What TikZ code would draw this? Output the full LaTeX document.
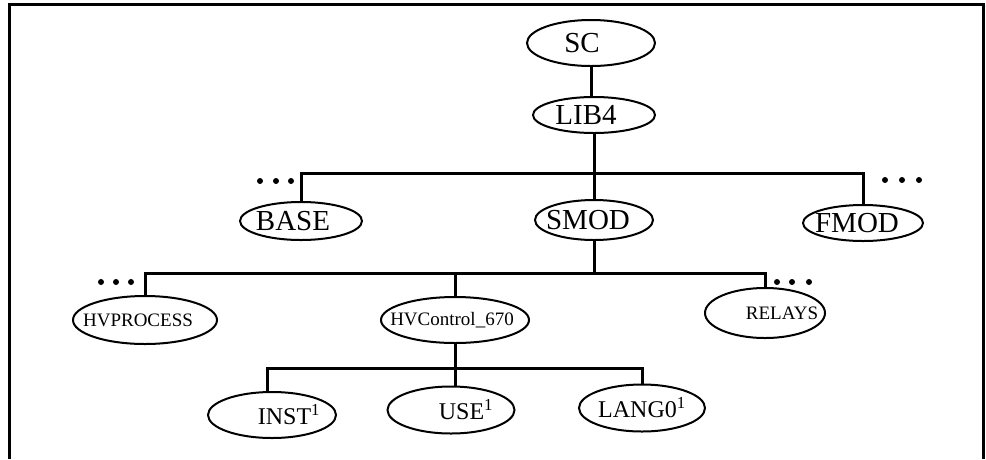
\documentclass[tikz,border=0pt]{standalone}
\usepackage{fontspec}
\setmainfont{Liberation Serif}
\usetikzlibrary{shapes.geometric}
\newcommand{\offtext}[2]{\makebox[0pt]{\hspace*{#1}#2}}
\tikzset{
  ell/.style={ellipse, draw, line width=2pt, inner sep=0pt},
  big/.style={ell, font=\fontsize{29}{31}\selectfont},
  mid/.style={ell, font=\fontsize{24}{26}\selectfont},
  small/.style={ell, font=\fontsize{19}{21}\selectfont},
  wire/.style={line width=3pt},
}
\begin{document}
\begin{tikzpicture}[x=1pt,y=-1pt]
      \useasboundingbox (0,0) rectangle (986,459);
      \draw[line width=3pt] (9,459) -- (9,4) -- (983,4) -- (983,459);
      \draw
        (591,43) node[big, minimum width=128, minimum height=46] (sc){\offtext{-18pt}{SC}}
        (594,115) node[big, minimum width=122, minimum height=36] (lib){\offtext{-16pt}{LIB4}}
        (301,221) node[big, minimum width=122, minimum height=38] (base){\offtext{-16pt}{BASE}}
        (594,220) node[big, minimum width=118, minimum height=40] (smod){\offtext{-12pt}{SMOD}}
        (863,223) node[big, minimum width=120, minimum height=36] (fmod){\offtext{-12pt}{FMOD}}
        (145,320) node[small, minimum width=144, minimum height=48] (hvproc){\offtext{-14pt}{HVPROCESS}}
        (455,320) node[small, minimum width=148, minimum height=46] (hvctl){\offtext{-6pt}{HVControl\_670}}
        (765,313) node[small, minimum width=120, minimum height=50] (relays){\offtext{34pt}{RELAYS}}
        (272,415) node[mid, minimum width=128, minimum height=46] (inst){\offtext{34pt}{INST\textsuperscript{1}}}
        (451,410) node[mid, minimum width=127, minimum height=47] (use){\offtext{30pt}{USE\textsuperscript{1}}}
        (642,408) node[mid, minimum width=126, minimum height=47] (lang){\offtext{0pt}{LANG0\textsuperscript{1}}};
      \coordinate (bar1) at (594,173);
      \coordinate (bar2) at (594,273);
      \coordinate (bar3) at (455,368);
      \begin{scope}[wire]
        \draw (sc) to (sc |- lib.north);
        \draw (lib) to (smod);
        \draw (base.north) |- (bar1) -| (fmod.north);
        \draw (smod) to (bar2);
        \draw (hvproc.north) |- (bar2) -| (relays.north);
        \draw (hvctl.north) to (hvctl.north |- bar2);
        \draw (hvctl.south) to (bar3 |- use.north);
        \draw (inst.100) |- (bar3) -| (lang.north);
      \end{scope}
      % dots beside the cut branches
      \foreach \x/\y in {260/181, 276/181, 291/181, 885/180, 902/180, 919/180,
                         101/282, 116/282, 131/282, 777/282, 792/282, 809/282}
        \fill (\x,\y) circle (3);
    \end{tikzpicture}
\end{document}
